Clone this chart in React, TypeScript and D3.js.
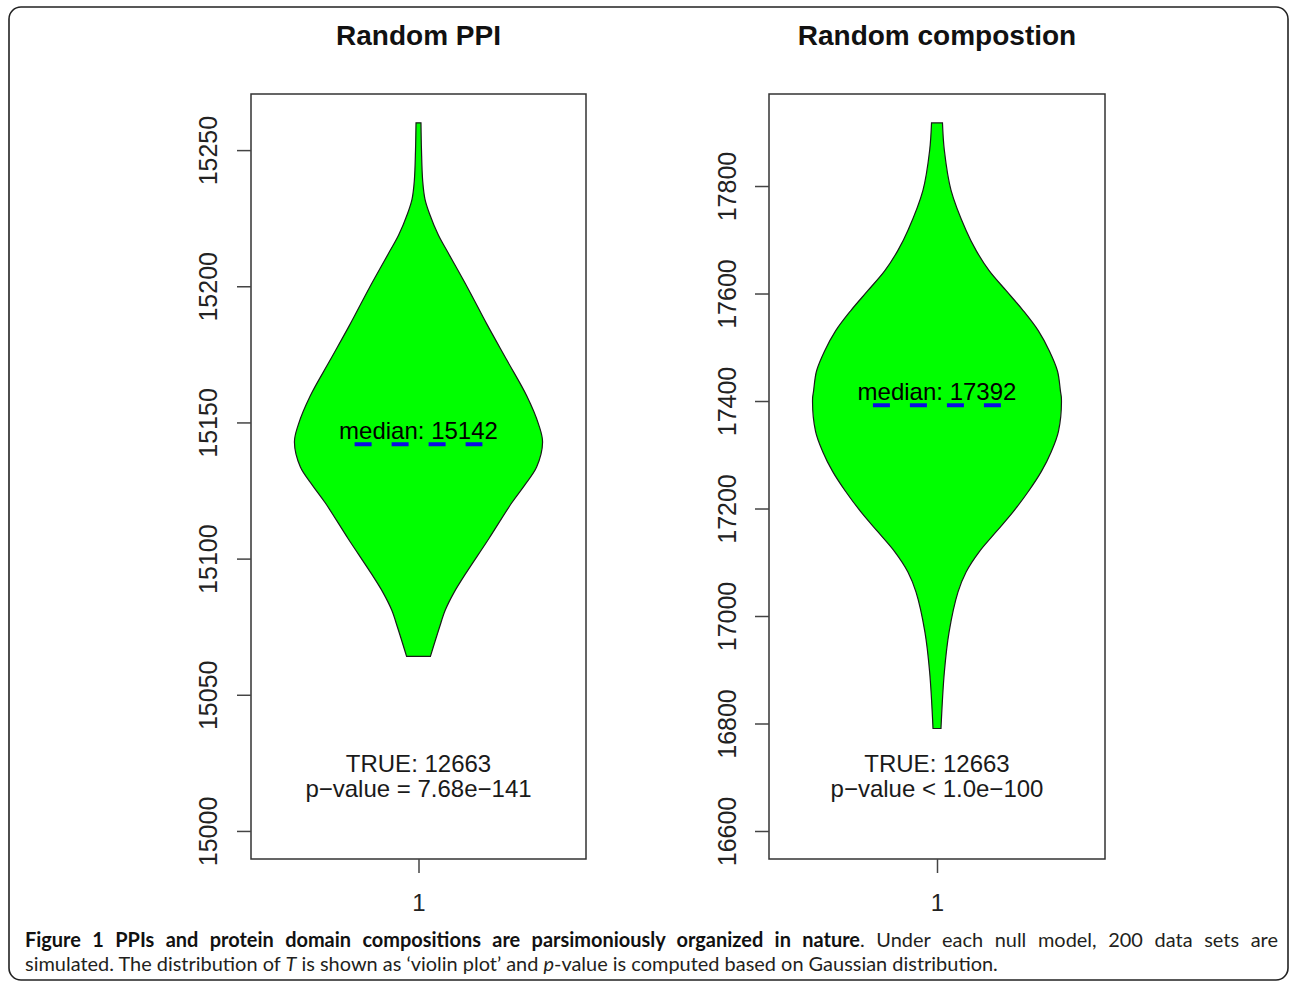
import React, { useEffect, useRef } from 'react';
import * as d3 from 'd3';

// panel titles and text
const titles = ['Random PPI', 'Random compostion'];
const medians = [15142, 17392];
const trueLabels = ['TRUE: 12663', 'TRUE: 12663'];
const pLabels = ['p\u2212value = 7.68e\u2212141', 'p\u2212value < 1.0e\u2212100'];

// violin outlines: value levels and relative half-widths
const ppiLevels = [15260, 15250, 15238.5, 15232, 15226.7, 15218.8, 15212.2, 15199.1, 15186, 15172.9, 15159.8, 15149.3, 15142.8, 15133.6, 15127, 15120.5, 15107.4, 15094.2, 15087.7, 15081.1, 15074.6, 15064.1];
const ppiWidths = [0.02, 0.024, 0.034, 0.052, 0.088, 0.16, 0.24, 0.4, 0.552, 0.712, 0.872, 0.968, 1.0, 0.952, 0.856, 0.752, 0.568, 0.376, 0.288, 0.216, 0.168, 0.096];

const compLevels = [17917.4, 17866.6, 17792, 17717.2, 17679.8, 17642.6, 17605.2, 17567.8, 17530.4, 17493, 17455.8, 17418.4, 17403.4, 17343.6, 17306.2, 17269, 17231.6, 17194.2, 17156.8, 17119.4, 17082, 17044.8, 16970, 16895.4, 16790.7];
const compWidths = [0.044, 0.059, 0.113, 0.234, 0.315, 0.419, 0.556, 0.694, 0.815, 0.903, 0.968, 0.992, 1.0, 0.976, 0.919, 0.839, 0.734, 0.613, 0.476, 0.339, 0.234, 0.169, 0.097, 0.059, 0.032];

// axes
const ppiTicks = [15000, 15050, 15100, 15150, 15200, 15250];
const compTicks = [16600, 16800, 17000, 17200, 17400, 17600, 17800];
const ppiDomain = [14989.7, 15270.6];
const compDomain = [16547.9, 17971.2];
const xDomain = [0.46, 1.54];

const captionBold = 'Figure 1 PPIs and protein domain compositions are parsimoniously organized in nature';
const captionRest = '. Under each null model, 200 data sets are';

const maxHalf = 0.4;
const medHalf = 0.206;
const boxTop = 94;
const boxBottom = 859;
const chartFont = '"Liberation Sans", Arial, Helvetica, sans-serif';

const panels = [
  { left: 251, right: 586, levels: ppiLevels, widths: ppiWidths, domain: ppiDomain, ticks: ppiTicks, labelOffset: 34 },
  { left: 769, right: 1105, levels: compLevels, widths: compWidths, domain: compDomain, ticks: compTicks, labelOffset: 33 },
];

const App = () => {
  const ref = useRef<SVGSVGElement>(null);

  useEffect(() => {
    const svg = d3.select(ref.current);
    svg.selectAll('*').remove();

    // outer rounded frame
    svg.append('rect')
      .attr('x', 9).attr('y', 7)
      .attr('width', 1279).attr('height', 973)
      .attr('rx', 12)
      .attr('fill', 'none')
      .attr('stroke', '#222')
      .attr('stroke-width', 1.6);

    panels.forEach((p, i) => {
      const x = d3.scaleLinear().domain(xDomain).range([p.left, p.right]);
      const y = d3.scaleLinear().domain(p.domain).range([boxBottom, boxTop]);
      const g = svg.append('g').attr('font-family', chartFont);
      const cx = x(1);

      g.append('text')
        .attr('x', cx).attr('y', 45)
        .attr('text-anchor', 'middle')
        .attr('font-size', 28)
        .attr('font-weight', 'bold')
        .attr('fill', '#111')
        .text(titles[i]);

      const pts = p.levels.map((v, k) => ({ v, w: p.widths[k] }));
      const area = d3.area<{ v: number; w: number }>()
        .y(d => y(d.v))
        .x0(d => x(1 - d.w * maxHalf))
        .x1(d => x(1 + d.w * maxHalf))
        .curve(d3.curveCatmullRom.alpha(0.5));

      g.append('path')
        .datum(pts)
        .attr('d', area)
        .attr('fill', '#00ff00')
        .attr('stroke', '#1a1a1a')
        .attr('stroke-width', 1.2);

      const my = y(medians[i]);
      g.append('text')
        .attr('x', cx).attr('y', my - 5)
        .attr('text-anchor', 'middle')
        .attr('font-size', 24)
        .attr('fill', '#000')
        .text('median: ' + medians[i]);

      g.append('line')
        .attr('x1', x(1 - medHalf)).attr('x2', x(1 + medHalf))
        .attr('y1', my).attr('y2', my)
        .attr('stroke', '#0a0ae6')
        .attr('stroke-width', 4)
        .attr('stroke-dasharray', '17,20');

      g.append('text')
        .attr('x', cx).attr('y', 772)
        .attr('text-anchor', 'middle')
        .attr('font-size', 24)
        .attr('fill', '#1a1a1a')
        .text(trueLabels[i]);
      g.append('text')
        .attr('x', cx).attr('y', 797)
        .attr('text-anchor', 'middle')
        .attr('font-size', 24)
        .attr('fill', '#1a1a1a')
        .text(pLabels[i]);

      // plot box
      g.append('rect')
        .attr('x', p.left).attr('y', boxTop)
        .attr('width', p.right - p.left).attr('height', boxBottom - boxTop)
        .attr('fill', 'none')
        .attr('stroke', '#333')
        .attr('stroke-width', 1.5);

      const ya = g.append('g')
        .attr('transform', `translate(${p.left},0)`)
        .call(d3.axisLeft(y).tickValues(p.ticks).tickSize(14).tickSizeOuter(0).tickFormat(d3.format('d')));
      ya.select('.domain').remove();
      ya.selectAll('line').attr('stroke', '#444').attr('stroke-width', 1.5);
      ya.selectAll('text')
        .attr('transform', 'rotate(-90)')
        .attr('x', 0).attr('y', -p.labelOffset).attr('dy', '0')
        .attr('text-anchor', 'middle')
        .attr('font-size', 25)
        .attr('font-family', chartFont)
        .attr('fill', '#222');

      const xa = g.append('g')
        .attr('transform', `translate(0,${boxBottom})`)
        .call(d3.axisBottom(x).tickValues([1]).tickSize(14).tickSizeOuter(0).tickFormat(() => '1'));
      xa.select('.domain').remove();
      xa.selectAll('line').attr('stroke', '#444').attr('stroke-width', 1.5);
      xa.selectAll('text')
        .attr('y', 52).attr('dy', '0')
        .attr('font-size', 24)
        .attr('font-family', chartFont)
        .attr('fill', '#222');
    });

    // caption
    const cap = svg.append('g').attr('font-family', 'Lato, "Noto Sans", sans-serif').attr('fill', '#231f20');
    const l1 = cap.append('text').attr('x', 25).attr('y', 947).attr('font-size', 18);
    l1.append('tspan').attr('font-weight', 'bold').attr('fill', '#111').text(captionBold);
    l1.append('tspan').text(captionRest);
    const l2 = cap.append('text').attr('x', 25).attr('y', 971).attr('font-size', 18);
    l2.append('tspan').text('simulated. The distribution of ');
    l2.append('tspan').attr('font-style', 'italic').text('T');
    l2.append('tspan').text(' is shown as \u2018violin plot\u2019 and ');
    l2.append('tspan').attr('font-style', 'italic').text('p');
    l2.append('tspan').text('-value is computed based on Gaussian distribution.');

    const fit = () => {
      const base = 18;
      l1.attr('font-size', base).attr('word-spacing', null);
      l2.attr('font-size', base);
      const w2 = (l2.node() as SVGTextElement).getComputedTextLength();
      const size = base * 973 / w2;
      l1.attr('font-size', size);
      l2.attr('font-size', size);
      const w1 = (l1.node() as SVGTextElement).getComputedTextLength();
      const spaces = (captionBold + captionRest).split(' ').length - 1;
      l1.attr('word-spacing', Math.max(0, (1253 - w1) / spaces));
    };
    fit();
    if (document.fonts) document.fonts.ready.then(fit);
  }, []);

  return (
    <svg
      ref={ref}
      width={1290}
      height={983}
      style={{ position: 'absolute', left: 0, top: 0, background: '#fff' }}
    />
  );
};

export default App;
